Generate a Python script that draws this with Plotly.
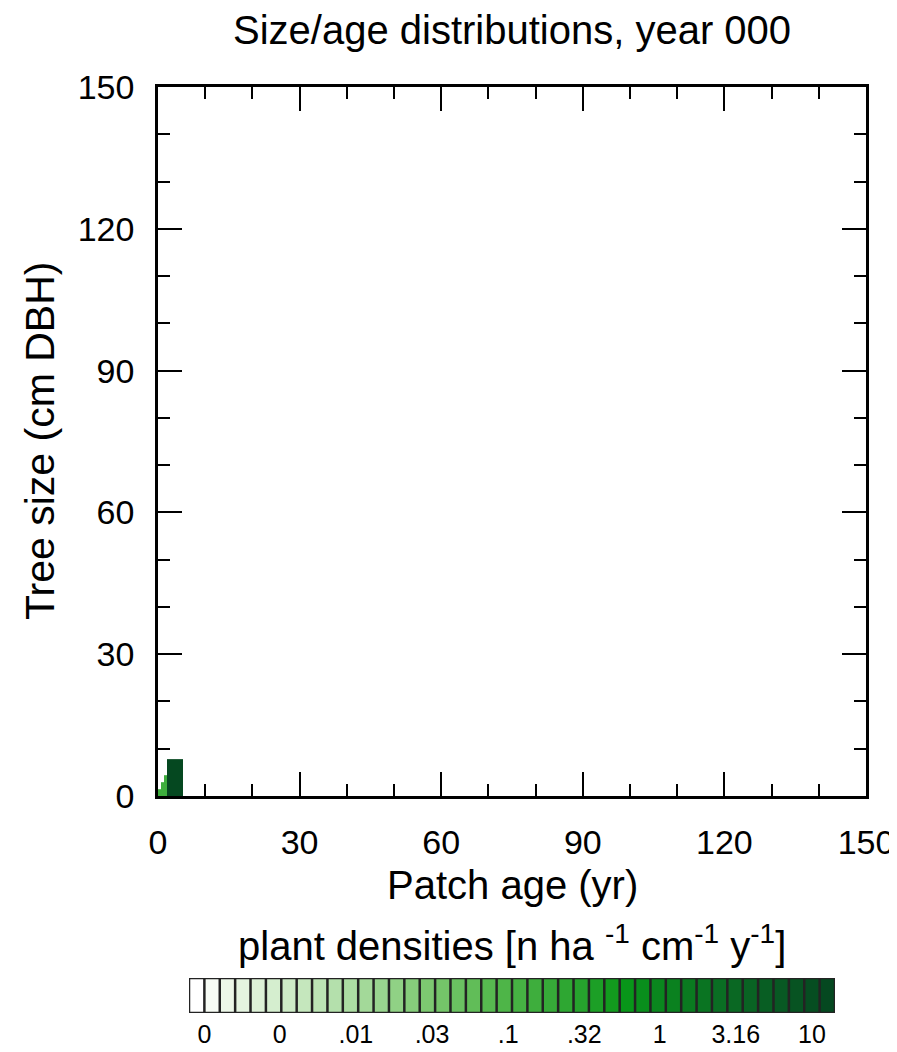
import numpy as np
import plotly.graph_objects as go

# ---------------- data ----------------
title_text = "Size/age distributions, year 000"
age_edges = [0, 0.6, 1.2, 1.85, 5.35]          # patch age bin edges (yr)
size_edges = [0, 1.5, 3.0, 4.5, 7.8]           # tree size bin edges (cm DBH)
# plant densities [n ha-1 cm-1 y-1], rows = size bins, cols = age bins
density = [
    [0.13, 0.13, 0.13, 12.0],
    [None, 0.13, 0.13, 12.0],
    [None, None, 0.13, 12.0],
    [None, None, None, 12.0],
]
axis_ticks = [0, 30, 60, 90, 120, 150]
cbar_labels = ["0", "0", ".01", ".03", ".1", ".32", "1", "3.16", "10"]
n_boxes = 42
cbar_label_pos = [1.0, 5.9, 10.85, 15.8, 20.75, 25.7, 30.6, 35.55, 40.5]

# ---------------- colours ----------------
anchor_idx = [0, 1, 2, 5, 10, 15, 20, 25, 27, 28, 30, 34, 38, 41]
anchor_rgb = [(255, 255, 255), (247, 252, 245), (236, 247, 232), (213, 238, 207),
              (172, 221, 163), (125, 201, 113), (78, 181, 72), (38, 163, 45),
              (18, 155, 30), (8, 150, 25), (10, 135, 30), (10, 110, 35),
              (8, 88, 35), (5, 72, 32)]
ar = np.array(anchor_rgb, dtype=float)
idx = np.arange(n_boxes)
cols = [
    "rgb(%d,%d,%d)" % tuple(int(round(np.interp(i, anchor_idx, ar[:, c]))) for c in range(3))
    for i in idx
]
colorscale = []
for i, c in enumerate(cols):
    colorscale.append([i / n_boxes, c])
    colorscale.append([(i + 1) / n_boxes, c])
colorscale[-1][0] = 1.0


def box_index(d):
    if d is None:
        return None
    return int(np.clip(np.floor(10 * np.log10(d) + 31), 0, n_boxes - 1))


zbox = [[box_index(v) for v in row] for row in density]

FONT = "Liberation Sans, Arial, Helvetica, sans-serif"

fig = go.Figure()
fig.add_trace(go.Heatmap(
    x=age_edges, y=size_edges, z=zbox,
    colorscale=colorscale, zmin=-0.5, zmax=n_boxes - 0.5,
    showscale=False, hoverongaps=False,
    xaxis="x", yaxis="y",
))

# label bar
fig.add_trace(go.Heatmap(
    x=list(range(n_boxes + 1)), y=[0, 1], z=[list(range(n_boxes))],
    colorscale=colorscale, zmin=-0.5, zmax=n_boxes - 0.5,
    showscale=False, xaxis="x2", yaxis="y2",
))
lx, ly = [], []
for k in range(n_boxes + 1):
    lx += [k, k, None]
    ly += [0, 1, None]
lx += [0, n_boxes, None, 0, n_boxes]
ly += [0, 0, None, 1, 1]
fig.add_trace(go.Scatter(
    x=lx, y=ly, mode="lines", line=dict(color="rgb(35,35,35)", width=2.5),
    hoverinfo="skip", showlegend=False, xaxis="x2", yaxis="y2", cliponaxis=False,
))

# page body has an 8 px margin: lay the figure out in window pixels minus that offset
OFF = 8
W, H = 897 - OFF, 1052 - OFF


def px(x):
    return (x - OFF) / W


def py(y):
    return 1 - (y - OFF) / H


x0, x1 = 158, 866
y0, y1 = 87, 796

common_axis = dict(
    range=[0, 150], tickvals=axis_ticks, ticks="inside", ticklen=24, tickwidth=2,
    tickcolor="black", showline=True, linecolor="black", linewidth=2.5,
    mirror="allticks", showgrid=False, zeroline=False, automargin=False,
    tickfont=dict(family=FONT, size=34, color="black"),
    minor=dict(dtick=10, ticks="inside", ticklen=12, tickwidth=2, tickcolor="black",
               showgrid=False),
)

fig.update_layout(
    width=W, height=H,
    margin=dict(l=0, r=0, t=0, b=0, autoexpand=False),
    paper_bgcolor="white", plot_bgcolor="white",
    showlegend=False,
    xaxis=dict(domain=[px(x0), px(x1)], anchor="y", ticklabelstandoff=14,
               ticklabeloverflow="allow", **common_axis),
    yaxis=dict(domain=[py(y1), py(y0)], anchor="x", ticklabelstandoff=14, **common_axis),
    xaxis2=dict(domain=[px(189), px(835)], anchor="y2", range=[0, n_boxes],
                tickvals=cbar_label_pos, ticktext=cbar_labels, ticks="",
                showline=False, showgrid=False, zeroline=False, automargin=False,
                tickfont=dict(family=FONT, size=25, color="black"),
                ticklabelstandoff=4, ticklabeloverflow="allow"),
    yaxis2=dict(domain=[py(1013), py(978)], anchor="x2", range=[0, 1],
                visible=False, automargin=False),
    annotations=[
        dict(text=title_text, x=px((x0 + x1) / 2), y=py(30), xref="paper", yref="paper",
             showarrow=False, xanchor="center", yanchor="middle",
             font=dict(family=FONT, size=40, color="black")),
        dict(text="Patch age (yr)", x=px((x0 + x1) / 2), y=py(885), xref="paper",
             yref="paper", showarrow=False, xanchor="center", yanchor="middle",
             font=dict(family=FONT, size=40, color="black")),
        dict(text="Tree size (cm DBH)", x=px(40), y=py(441), xref="paper",
             yref="paper", showarrow=False, xanchor="center", yanchor="middle",
             textangle=-90, font=dict(family=FONT, size=41, color="black")),
        dict(text="plant densities [n ha <sup>-1</sup> cm<sup>-1</sup> y<sup>-1</sup>]",
             x=px((189 + 835) / 2), y=py(943), xref="paper", yref="paper",
             showarrow=False, xanchor="center", yanchor="middle",
             font=dict(family=FONT, size=40, color="black")),
    ],
)

fig.write_html("out.html")
